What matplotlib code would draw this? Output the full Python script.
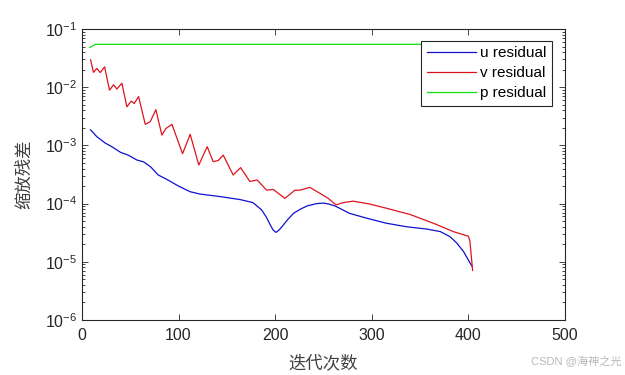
import matplotlib
matplotlib.use("Agg")
import matplotlib.pyplot as plt
from matplotlib.ticker import LogLocator, NullFormatter

plt.rcParams['font.family'] = ['Liberation Sans', 'Noto Sans CJK SC']
plt.rcParams['mathtext.fontset'] = 'custom'
plt.rcParams['mathtext.rm'] = 'Liberation Sans'
plt.rcParams['mathtext.it'] = 'Liberation Sans'

# u residual (iteration, value)
u_iter = [9, 15.5, 24, 31, 40, 48, 57, 64, 71, 79, 88, 100, 112, 122, 143, 164, 177,
          186, 191, 195, 198, 201, 204, 207, 213, 219, 226, 233, 243, 250, 256,
          262, 277, 295, 315, 336, 357, 371, 381, 388, 395, 400, 403.5]
u_res = [1.85e-3, 1.41e-3, 1.10e-3, 9.5e-4, 7.6e-4, 6.8e-4, 5.6e-4, 5.2e-4, 4.3e-4,
         3.1e-4, 2.6e-4, 2.0e-4, 1.6e-4, 1.46e-4, 1.32e-4, 1.17e-4, 1.04e-4,
         7.8e-5, 5.8e-5, 4.3e-5, 3.5e-5, 3.2e-5, 3.5e-5, 4.0e-5, 5.3e-5, 6.8e-5,
         8.0e-5, 9.1e-5, 1.0e-4, 1.02e-4, 9.8e-5,
         9.1e-5, 6.8e-5, 5.6e-5, 4.6e-5, 4.0e-5, 3.65e-5, 3.3e-5, 2.7e-5, 2.1e-5,
         1.5e-5, 1.07e-5, 8.5e-6]

# v residual (iteration, value)
v_iter = [9, 12, 15.5, 19, 23.5, 28.6, 32.8, 36.2, 41.4, 46.6, 51, 54.2, 58.7, 65.6,
          70.7, 76.6, 82.8, 87, 93.2, 104.2, 112.1, 121, 129.7, 135.9, 141.1, 146.3,
          156.6, 164.3, 173.8, 181.4, 191.2, 198, 210.1, 220.5, 225.7, 236, 246.4,
          255, 263, 270.5, 280.9, 298.2, 315.4, 339.6, 363.7, 384.4, 400, 401.6,
          403.4, 404.4]
v_res = [2.95e-2, 1.80e-2, 2.1e-2, 1.78e-2, 2.24e-2, 8.9e-3, 1.1e-2, 9.3e-3, 1.17e-2,
         4.6e-3, 5.75e-3, 5.25e-3, 6.9e-3, 2.3e-3, 2.55e-3, 4.1e-3, 1.5e-3, 1.95e-3,
         2.3e-3, 7.2e-4, 1.55e-3, 4.6e-4, 9.5e-4, 5.25e-4, 5.5e-4, 6.8e-4, 3.1e-4,
         4.15e-4, 2.4e-4, 2.55e-4, 1.7e-4, 1.75e-4, 1.23e-4, 1.7e-4, 1.7e-4, 1.9e-4,
         1.5e-4, 1.23e-4, 9.5e-5, 1.04e-4, 1.1e-4, 9.8e-5, 8.3e-5, 6.5e-5, 4.6e-5,
         3.3e-5, 2.75e-5, 2.25e-5, 1.07e-5, 7.1e-6]

# p residual (iteration, value)
p_iter = [8, 10, 14, 404]
p_res = [0.048, 0.050, 0.0545, 0.0545]

fig = plt.figure(figsize=(6.25, 3.75), dpi=100)
ax = fig.add_axes([0.131, 0.1467, 0.773, 0.776])

ax.semilogy(u_iter, u_res, color='#1010d0', lw=0.9, label='u residual',
            solid_joinstyle='round')
ax.semilogy(v_iter, v_res, color='#e0141e', lw=0.9, label='v residual',
            solid_joinstyle='round')
ax.semilogy(p_iter, p_res, color='#10e010', lw=0.9, label='p residual')

ax.set_xlim(0, 500)
ax.set_ylim(1e-6, 1e-1)
ax.set_xticks([0, 100, 200, 300, 400, 500])
ax.yaxis.set_major_locator(LogLocator(base=10, numticks=10))
ax.yaxis.set_minor_locator(LogLocator(base=10, subs=range(2, 10), numticks=20))
ax.yaxis.set_minor_formatter(NullFormatter())

ax.tick_params(which='both', direction='in', top=True, right=True,
               colors='#262626', labelsize=11.5, width=0.6)
ax.tick_params(which='major', length=4)
ax.tick_params(which='minor', length=2)
ax.tick_params(axis='x', pad=6)
for s in ax.spines.values():
    s.set_color('#262626')
    s.set_linewidth(0.8)

ax.set_xlabel('迭代次数', family=['Noto Sans CJK SC'], fontsize=12.5,
              color='#404040', weight='light', labelpad=8)
ax.set_ylabel('缩放残差', family=['Noto Sans CJK SC'], fontsize=12.5,
              color='#404040', weight='light', labelpad=8)

leg = ax.legend(loc='upper right', bbox_to_anchor=(0.973, 0.96), fontsize=11,
                fancybox=False, edgecolor='#262626', framealpha=1,
                handlelength=3.2, borderpad=0.35, labelspacing=0.4,
                handletextpad=0.3, borderaxespad=0)
leg.get_frame().set_linewidth(0.8)

fig.text(0.995, 0.035, 'CSDN @海神之光', ha='right', va='center', fontsize=8,
         color='#b8b8b8', family=['Liberation Sans', 'Noto Sans CJK SC'])

fig.savefig('out.png', dpi=100)
